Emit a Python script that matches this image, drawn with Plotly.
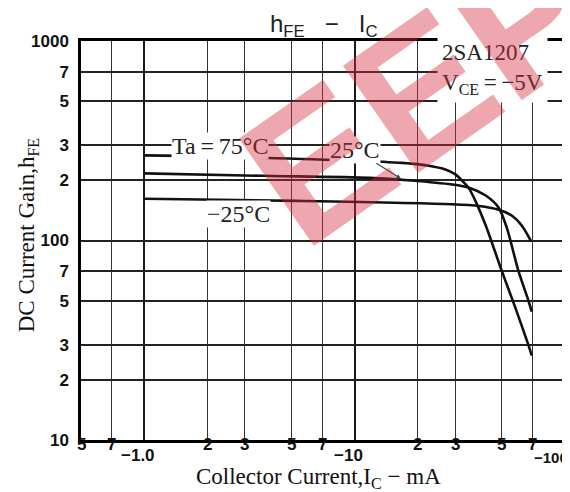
import numpy as np
import plotly.graph_objects as go

# ---- data ----
ic_75 = [1.0, 3.6, 16.8, 22.5, 27, 30, 32.5, 35, 37.5, 42, 50, 58, 66.7, 69.5]
hfe_75 = [267, 260, 245, 237, 227, 215, 199, 182, 158, 119, 70.6, 46.2, 30.3, 26.5]

ic_25 = [1.0, 3.6, 11.8, 18.5, 29, 35, 42, 48.4, 53, 60, 67, 69.5]
hfe_25 = [217, 211, 206, 200, 191, 184, 168, 146, 115, 70.6, 50, 44]

ic_m25 = [1.0, 5.3, 29, 39, 48, 56, 62.4, 69]
hfe_m25 = [162, 158, 152, 149, 143, 133, 118.5, 99]

x_minor_ticks = [0.5, 0.7, 2, 3, 5, 7, 20, 30, 50, 70]
x_minor_labels = ["5", "7", "2", "3", "5", "7", "2", "3", "5", "7"]
x_decade_ticks = [1, 10, 100]
x_decade_labels = ["\u22121.0", "\u221210", "\u2212100"]
y_ticks = [10, 20, 30, 50, 70, 100, 200, 300, 500, 700, 1000]
y_labels = ["10", "2", "3", "5", "7", "100", "2", "3", "5", "7", "1000"]

L = np.log10
SERIF = "Liberation Serif, Times New Roman, serif"
SANS = "Liberation Sans, Arial, sans-serif"
NARROW = "Liberation Sans Narrow, Liberation Sans, Arial, sans-serif"

W, H = 570, 492
ml, mr, mt, mb = 73, 10, 33, 60
pw, ph = W - ml - mr, H - mt - mb


def px_paper(px, py):
    return (px - ml) / pw, (H - mb - py) / ph


fig = go.Figure()
for xs, ys in [(ic_75, hfe_75), (ic_25, hfe_25), (ic_m25, hfe_m25)]:
    fig.add_trace(go.Scatter(x=xs, y=ys, mode="lines",
                             line=dict(color="#111", width=2.6, shape="spline", smoothing=0.8),
                             showlegend=False, hoverinfo="skip"))

ann = []
for v, t in zip(x_minor_ticks, x_minor_labels):
    ann.append(dict(x=L(v), y=0, xref="x", yref="paper", text=t, showarrow=False,
                    xanchor="center", yanchor="top", yshift=7,
                    font=dict(family=NARROW, size=17, color="#111", weight="bold")))
for v, t, xs, fs, ys in zip(x_decade_ticks, x_decade_labels, [-6, -6, -14], [17, 17, 15], [-4, -4, -7]):
    ann.append(dict(x=L(v), y=0, xref="x", yref="paper", text=t, showarrow=False,
                    xanchor="center", yanchor="top", yshift=ys, xshift=xs,
                    font=dict(family=NARROW, size=fs, color="#111", weight="bold")))

lab_font = dict(family=SERIF, size=24, color="#222")
wx, wy = px_paper(490, 30)
tx, ty = px_paper(318, 18)
ann += [
    dict(x=L(2.30), y=L(297), text="Ta\u2009=\u200975\u00b0C", showarrow=False, bgcolor="white",
         font=lab_font, borderpad=0),
    dict(x=L(16.6), y=L(204), ax=-46, ay=-29, text="25\u00b0C", showarrow=True,
         arrowhead=2, arrowsize=0.8, arrowwidth=1.2, arrowcolor="#444", bgcolor="white",
         font=lab_font, borderpad=0),
    dict(x=L(2.80), y=L(136), text="\u221225\u00b0C", showarrow=False, bgcolor="white",
         font=lab_font, borderpad=0),
    dict(x=L(24.5), y=L(720), text="2SA1207<br>V<sub>CE</sub>\u2009=\u2009\u22125V", showarrow=False,
         xanchor="left", yanchor="middle", align="left", bgcolor="white", borderpad=4,
         font=dict(family=SERIF, size=23, color="#222")),
    # axis titles
    dict(x=0.49, y=-0.096, xref="paper", yref="paper",
         text="Collector Current,I<sub>C</sub> \u2212 mA", showarrow=False,
         xanchor="center", yanchor="middle", font=dict(family=SERIF, size=23, color="#111")),
    dict(x=-0.11, y=0.515, xref="paper", yref="paper", textangle=-90,
         text="DC Current Gain,h<sub>FE</sub>", showarrow=False,
         xanchor="center", yanchor="middle", font=dict(family=SERIF, size=23, color="#111")),
    # title
    dict(x=tx, y=ty, xref="paper", yref="paper",
         text="h<sub>FE</sub>\u00a0\u00a0\u00a0\u2212\u00a0\u00a0\u00a0I<sub>C</sub>", showarrow=False,
         xanchor="center", yanchor="middle", font=dict(family=SANS, size=24, color="#222")),
    # watermark
    dict(x=wx, y=wy, xref="paper", yref="paper", text="EEPW", showarrow=False,
         xanchor="center", yanchor="middle", textangle=-35,
         font=dict(family=SANS, size=190, color="rgba(215,45,65,0.42)", weight="bold")),
]

fig.update_layout(
    width=W, height=H,
    margin=dict(l=ml, r=mr, t=mt, b=mb),
    paper_bgcolor="white", plot_bgcolor="white",
    xaxis=dict(type="log", range=[L(0.5), 2], tickvals=x_decade_ticks, showticklabels=False,
               ticks="", showgrid=True, gridcolor="#1a1a1a", gridwidth=2.4,
               minor=dict(tickvals=x_minor_ticks, showgrid=True, gridcolor="#333",
                          gridwidth=1.2, ticks=""),
               showline=True, linecolor="#000", linewidth=2.5, mirror=True, zeroline=False),
    yaxis=dict(type="log", range=[1, 3], tickvals=y_ticks, ticktext=y_labels,
               tickfont=dict(family=SANS, size=17, color="#111", weight="bold"),
               ticks="", ticklabelstandoff=6, showgrid=True, gridcolor="#222", gridwidth=1.7,
               showline=True, linecolor="#000", linewidth=2.5, mirror=True, zeroline=False),
    annotations=ann,
)
fig.write_html("out.html")
